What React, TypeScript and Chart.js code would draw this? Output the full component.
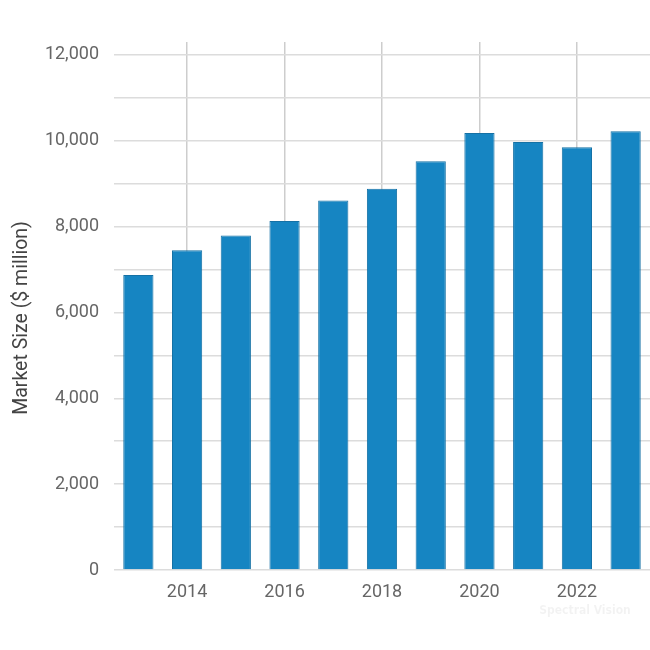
import React, { useEffect, useRef } from "react";
import { Chart, registerables } from "chart.js";

Chart.register(...registerables);

const years: string[] = ["2013", "2014", "2015", "2016", "2017", "2018", "2019", "2020", "2021", "2022", "2023"];
const marketSize: number[] = [6870, 7450, 7790, 8130, 8610, 8880, 9520, 10180, 9970, 9850, 10220];
const yTickValues: number[] = [0, 1000, 2000, 3000, 4000, 5000, 6000, 7000, 8000, 9000, 10000, 11000, 12000];
const yLabelEvery = 2000;
const xLabelYears: string[] = ["2014", "2016", "2018", "2020", "2022"];
const yTitle = "Market Size ($ million)";
const watermark = "Spectral Vision";

const decorPlugin = {
  id: "decor",
  afterDraw(chart: any) {
    const ctx = chart.ctx;
    ctx.save();
    ctx.font = "bold 12px 'DejaVu Sans Condensed', 'DejaVu Sans', sans-serif";
    ctx.fillStyle = "rgba(0,0,0,0.05)";
    ctx.textAlign = "center";
    ctx.textBaseline = "middle";
    ctx.fillText(watermark, 585, 611);
    ctx.restore();

    ctx.save();
    ctx.translate(22, 318);
    ctx.rotate(-Math.PI / 2);
    ctx.font = "19.5px Roboto, 'Noto Sans', sans-serif";
    ctx.fillStyle = "#444";
    ctx.textAlign = "center";
    ctx.textBaseline = "middle";
    ctx.fillText(yTitle, 0, 0);
    ctx.restore();
  },
};

export default function App() {
  const canvasRef = useRef<HTMLCanvasElement | null>(null);

  useEffect(() => {
    if (!canvasRef.current) return;
    const font = { family: "Roboto, 'Noto Sans', sans-serif", size: 18 };
    const chart = new Chart(canvasRef.current, {
      type: "bar",
      data: {
        labels: years,
        datasets: [
          {
            label: yTitle,
            data: marketSize,
            backgroundColor: "#1685c2",
            borderColor: "#1571a5",
            borderWidth: 1,
            barPercentage: 0.62,
            categoryPercentage: 1,
          },
        ],
      },
      options: {
        animation: false,
        responsive: true,
        maintainAspectRatio: false,
        layout: { padding: { left: 0, top: 42, right: 0, bottom: 0 } },
        plugins: { legend: { display: false }, tooltip: { enabled: false } },
        scales: {
          x: {
            offset: true,
            border: { display: false },
            afterFit: (axis: any) => {
              axis.height = 80;
            },
            grid: {
              offset: false,
              drawTicks: false,
              lineWidth: 1.5,
              color: (c: any) => {
                const lbl = years[c.index];
                return xLabelYears.includes(lbl) ? "#cdcdcd" : "rgba(0,0,0,0)";
              },
            },
            ticks: {
              autoSkip: false,
              maxRotation: 0,
              padding: 12,
              color: "#666",
              font,
              callback: (_v: any, i: number) => (xLabelYears.includes(years[i]) ? years[i] : ""),
            },
          },
          y: {
            min: 0,
            max: 12300,
            border: { display: false },
            afterFit: (axis: any) => {
              axis.width = 114;
            },
            afterBuildTicks: (axis: any) => {
              axis.ticks = yTickValues.map((v) => ({ value: v }));
            },
            grid: { drawTicks: false, color: "#dcdcdc", lineWidth: 1.5 },
            ticks: {
              padding: 15,
              color: "#666",
              font,
              callback: (v: any) => (Number(v) % yLabelEvery === 0 ? Number(v).toLocaleString("en-US") : ""),
            },
            title: { display: false },
          },
        },
      },
      plugins: [decorPlugin],
    });
    return () => chart.destroy();
  }, []);

  return (
    <div style={{ position: "fixed", left: 0, top: 0, width: 650, height: 650, background: "#fff" }}>
      <canvas ref={canvasRef} />
    </div>
  );
}
